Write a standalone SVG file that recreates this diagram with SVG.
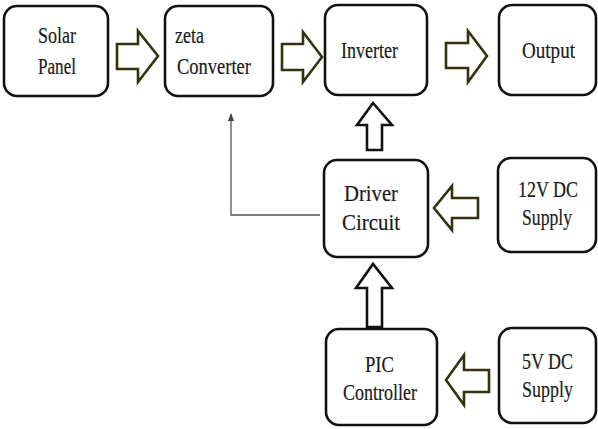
<svg xmlns="http://www.w3.org/2000/svg" width="598" height="429" viewBox="0 0 598 429">
<style>
.box{fill:#fff;stroke:#111;stroke-width:2.6}
.t{font-family:"Liberation Serif","Times New Roman",serif;font-size:24px;fill:#1a1a1a;stroke:#1a1a1a;stroke-width:0.2;text-anchor:start}
.fat{fill:#fff;stroke:#33330f;stroke-width:2.6;stroke-linejoin:miter}
.fatk{fill:#fff;stroke:#111;stroke-width:2.6;stroke-linejoin:miter}
.fb{fill:none;stroke:#555;stroke-width:1.3}
</style>
<defs>
<marker id="ah" viewBox="0 0 10 10" refX="9" refY="5" markerWidth="6" markerHeight="6" orient="auto">
<path d="M0,1 L10,5 L0,9 Z" fill="#444"/>
</marker>
</defs>
<rect width="598" height="429" fill="#fff"/>
<g id="connectors">
<polygon class="fat" points="117,44 138,44 138,31 158,56 138,82 138,69 117,69"/>
<polygon class="fat" points="282,44 303,44 303,32 322,57 303,82 303,70 282,70"/>
<polygon class="fat" points="446,43 468,43 468,31 487,56 468,82 468,68 446,68"/>
<polygon class="fatk" points="367,150 367,125 357,125 373,103 392,125 382,125 382,150"/>
<polygon class="fatk" points="367,327 367,288 356,288 373,264 392,288 382,288 382,327"/>
<polygon class="fat" points="478,198 452,198 452,186 434,208 452,230 452,218 478,218"/>
<polygon class="fat" points="489,370 464,370 464,355 446,380 464,405 464,392 489,392"/>
<polyline class="fb" points="320,215 231,215 231,114" marker-end="url(#ah)"/>
</g>
<g id="solar">
<rect class="box" x="4" y="6" width="104" height="90" rx="13"/>
<text class="t" x="38" y="43" textLength="38" lengthAdjust="spacingAndGlyphs">Solar</text>
<text class="t" x="38" y="74" textLength="38" lengthAdjust="spacingAndGlyphs">Panel</text>
</g>
<g id="zeta">
<rect class="box" x="165" y="6" width="108" height="90" rx="13"/>
<text class="t" x="175" y="43" textLength="29" lengthAdjust="spacingAndGlyphs">zeta</text>
<text class="t" x="177" y="74" textLength="74" lengthAdjust="spacingAndGlyphs">Converter</text>
</g>
<g id="inverter">
<rect class="box" x="325" y="5" width="102" height="90" rx="13"/>
<text class="t" x="341" y="58" textLength="57" lengthAdjust="spacingAndGlyphs">Inverter</text>
</g>
<g id="output">
<rect class="box" x="499" y="5" width="97" height="90" rx="13"/>
<text class="t" x="522" y="58" textLength="53" lengthAdjust="spacingAndGlyphs">Output</text>
</g>
<g id="driver">
<rect class="box" x="324" y="160" width="104" height="97" rx="13"/>
<text class="t" x="344" y="201" textLength="54" lengthAdjust="spacingAndGlyphs">Driver</text>
<text class="t" x="342" y="230" textLength="58" lengthAdjust="spacingAndGlyphs">Circuit</text>
</g>
<g id="dc12">
<rect class="box" x="498" y="158" width="98" height="94" rx="13"/>
<text class="t" x="518" y="197" textLength="60" lengthAdjust="spacingAndGlyphs">12V DC</text>
<text class="t" x="522" y="225" textLength="50" lengthAdjust="spacingAndGlyphs">Supply</text>
</g>
<g id="pic">
<rect class="box" x="326" y="329" width="111" height="96" rx="13"/>
<text class="t" x="365" y="372" textLength="29" lengthAdjust="spacingAndGlyphs">PIC</text>
<text class="t" x="343" y="400" textLength="74" lengthAdjust="spacingAndGlyphs">Controller</text>
</g>
<g id="dc5">
<rect class="box" x="499" y="328" width="97" height="95" rx="13"/>
<text class="t" x="522" y="369" textLength="51" lengthAdjust="spacingAndGlyphs">5V DC</text>
<text class="t" x="522" y="397" textLength="51" lengthAdjust="spacingAndGlyphs">Supply</text>
</g>
</svg>
